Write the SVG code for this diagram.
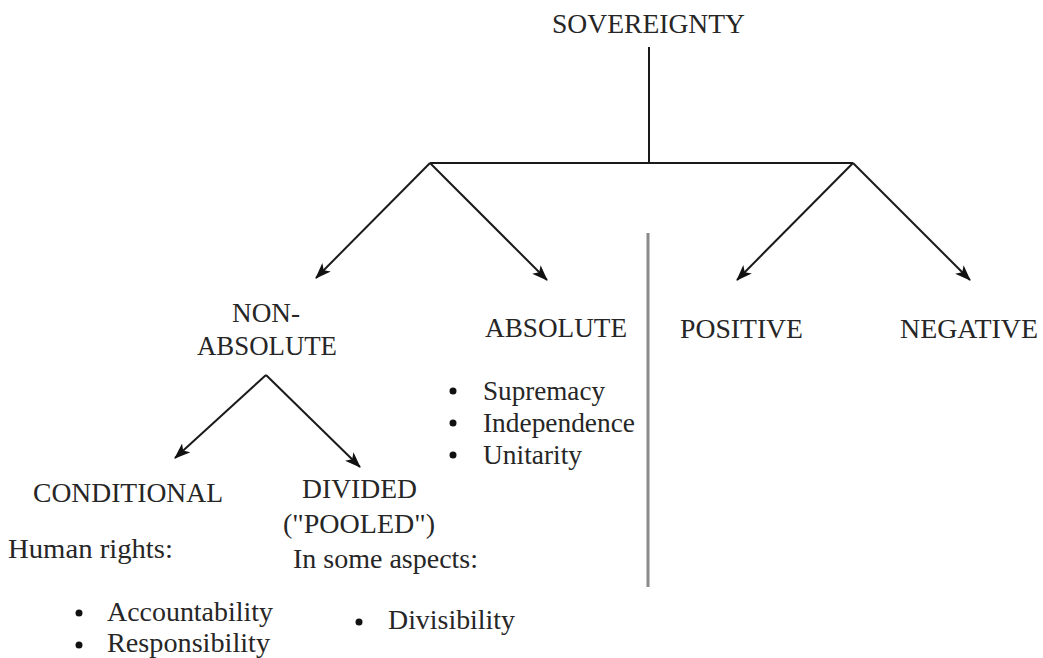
<svg xmlns="http://www.w3.org/2000/svg" width="1043" height="658" viewBox="0 0 1043 658">
<style>
text{font-size:27px;fill:#262626}
.ln{stroke:#1a1a1a;stroke-width:2;fill:none}
.ar{stroke:#1a1a1a;stroke-width:2;fill:none;marker-end:url(#ah)}
.dot{fill:#111}
</style>
<defs>
<marker id="ah" viewBox="0 0 16 12" refX="15" refY="6" markerWidth="16" markerHeight="12" markerUnits="userSpaceOnUse" orient="auto">
<path d="M0,0 L16,6 L0,12 L4,6 Z" fill="#111"/>
</marker>
</defs>
<rect width="1043" height="658" fill="#fff"/>
<g id="connectors">
<line class="ln" x1="649" y1="47" x2="649" y2="163"/>
<line class="ln" x1="430" y1="163" x2="853" y2="163"/>
<line class="ar" x1="430" y1="163" x2="316" y2="278"/>
<line class="ar" x1="430" y1="163" x2="547" y2="280"/>
<line class="ar" x1="853" y1="163" x2="737" y2="280"/>
<line class="ar" x1="853" y1="163" x2="970" y2="280"/>
<line class="ar" x1="266" y1="375" x2="175" y2="458"/>
<line class="ar" x1="266" y1="375" x2="360" y2="467"/>
</g>
<line id="divider" x1="648" y1="233" x2="648" y2="587" stroke="#8a8a8a" stroke-width="3"/>
<g font-family="Liberation Serif, DejaVu Serif, serif">
<g id="sovereignty"><text x="552" y="33" textLength="193" lengthAdjust="spacingAndGlyphs">SOVEREIGNTY</text></g>
<g id="non-absolute">
<text x="232" y="322" textLength="68" lengthAdjust="spacingAndGlyphs">NON-</text>
<text x="197" y="355" textLength="140" lengthAdjust="spacingAndGlyphs">ABSOLUTE</text>
</g>
<g id="absolute">
<text x="485" y="337" textLength="142" lengthAdjust="spacingAndGlyphs">ABSOLUTE</text>
<circle class="dot" cx="453" cy="391" r="3.5"/>
<text x="483" y="400" textLength="122" lengthAdjust="spacingAndGlyphs">Supremacy</text>
<circle class="dot" cx="453" cy="423" r="3.5"/>
<text x="483" y="432" textLength="152" lengthAdjust="spacingAndGlyphs">Independence</text>
<circle class="dot" cx="453" cy="455" r="3.5"/>
<text x="483" y="464" textLength="99" lengthAdjust="spacingAndGlyphs">Unitarity</text>
</g>
<g id="positive"><text x="680" y="338" textLength="123" lengthAdjust="spacingAndGlyphs">POSITIVE</text></g>
<g id="negative"><text x="900" y="338" textLength="138" lengthAdjust="spacingAndGlyphs">NEGATIVE</text></g>
<g id="conditional">
<text x="33" y="502" textLength="190" lengthAdjust="spacingAndGlyphs">CONDITIONAL</text>
<text x="8" y="558" textLength="165" lengthAdjust="spacingAndGlyphs">Human rights:</text>
<circle class="dot" cx="79" cy="613" r="3.5"/>
<text x="107" y="621" textLength="166" lengthAdjust="spacingAndGlyphs">Accountability</text>
<circle class="dot" cx="79" cy="645" r="3.5"/>
<text x="107" y="652" textLength="163" lengthAdjust="spacingAndGlyphs">Responsibility</text>
</g>
<g id="divided">
<text x="302" y="498" textLength="115" lengthAdjust="spacingAndGlyphs">DIVIDED</text>
<text x="283" y="533" textLength="152" lengthAdjust="spacingAndGlyphs">("POOLED")</text>
<text x="293" y="568" textLength="185" lengthAdjust="spacingAndGlyphs">In some aspects:</text>
<circle class="dot" cx="359" cy="622" r="3.5"/>
<text x="388" y="629" textLength="127" lengthAdjust="spacingAndGlyphs">Divisibility</text>
</g>
</g>
</svg>
